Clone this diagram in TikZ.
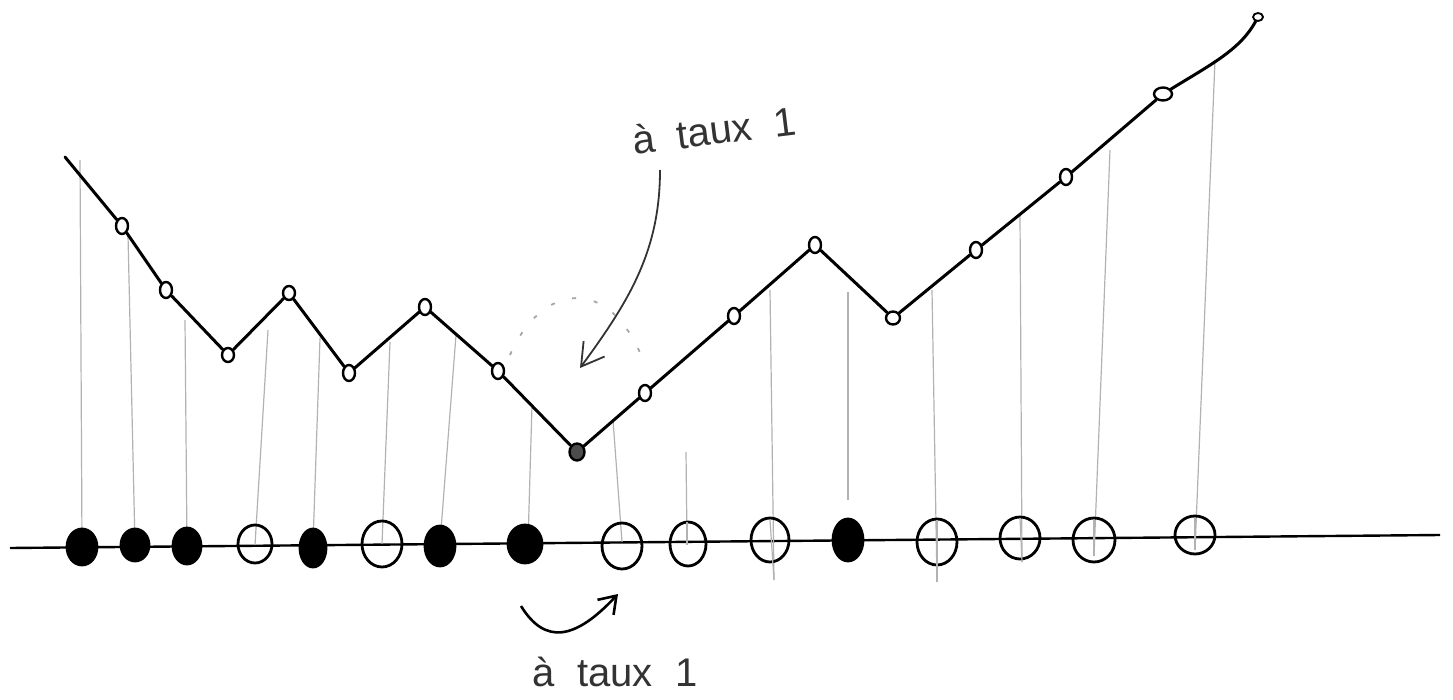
\documentclass[tikz,border=0pt]{standalone}
\usepackage{fontspec}
\setmainfont{Liberation Sans}
\usetikzlibrary{shapes.geometric,arrows.meta}
\begin{document}
\begin{tikzpicture}[x=1pt,y=-1pt,
  ink/.style={line width=3pt,black,line cap=round,line join=round},
  dot/.style={ellipse,draw,line width=2.4pt,minimum width=12pt,minimum height=16pt,inner sep=0pt,fill=white},
  ball/.style={ellipse,draw,line width=2.8pt,minimum width=34pt,minimum height=40pt,inner sep=0pt},
  fullball/.style={ball,fill=black},
  guide/.style={gray!60,line width=1.2pt},
  lbl/.style={font=\fontsize{40}{40}\selectfont,text=black!80}]
\useasboundingbox (0,0) rectangle (1453,700);
% baseline
\coordinate (bl) at (10,548);
\coordinate (br) at (1440,535);
\draw[line width=2.4pt] (bl) -- (br);
% guide tops / bottoms
\coordinate (g1) at (80,160);
\coordinate (g2) at (128,235);
\coordinate (g3) at (185,320);
\coordinate (g4) at (268,330);
\coordinate (g5) at (320,338);
\coordinate (g6) at (390,342);
\coordinate (g7) at (456,335);
\coordinate (g8) at (532,405);
\coordinate (g9) at (613,420);
\coordinate (g10) at (686,452);
\coordinate (g11) at (770,290);
\coordinate (g12) at (848,292);
\coordinate (g13) at (932,290);
\coordinate (g14) at (1020,215);
\coordinate (g15) at (1110,150);
\coordinate (g16) at (1215,60);
\coordinate (d11) at (774,580);
\coordinate (d13) at (937,582);
\coordinate (d14) at (1022,562);
\coordinate (d15) at (1094,556);
\coordinate (d16) at (1195,550);
\coordinate (d12) at (848,500);
% guides
\draw[guide] (g1) -- (82,546);
\draw[guide] (g2) -- (135,545);
\draw[guide] (g3) -- (187,545);
\draw[guide] (g4) -- (255,545);
\draw[guide] (g5) -- (313,544);
\draw[guide] (g6) -- (382,544);
\draw[guide] (g7) -- (440,543);
\draw[guide] (g8) -- (528,543);
\draw[guide] (g9) -- (622,542);
\draw[guide] (g10) -- (687,541);
\draw[guide] (g11) -- (d11);
\draw[guide] (g12) -- (d12);
\draw[guide] (g13) -- (d13);
\draw[guide] (g14) -- (d14);
\draw[guide] (g15) -- (d15);
\draw[guide] (g16) -- (d16);
% baseline balls
\node[fullball,minimum width=30pt,minimum height=36pt] (b1) at (82,547) {};
\node[fullball,minimum width=28pt,minimum height=32pt] (b2) at (135,545) {};
\node[fullball,minimum width=28pt,minimum height=36pt] (b3) at (187,546) {};
\node[ball,minimum width=34pt,minimum height=38pt] (b4) at (255,544) {};
\node[fullball,minimum width=26pt,minimum height=38pt] (b5) at (313,548) {};
\node[ball,minimum width=40pt,minimum height=46pt] (b6) at (382,544) {};
\node[fullball,minimum width=30pt,minimum height=40pt] (b7) at (440,546) {};
\node[fullball,minimum width=34pt,minimum height=38pt] (b8) at (525,544) {};
\node[ball,minimum width=40pt,minimum height=46pt] (b9) at (622,546) {};
\node[ball,minimum width=36pt,minimum height=44pt] (b10) at (688,544) {};
\node[ball,minimum width=38pt,minimum height=44pt] (b11) at (770,540) {};
\node[fullball,minimum width=30pt,minimum height=42pt] (b12) at (848,540) {};
\node[ball,minimum width=40pt,minimum height=46pt] (b13) at (937,542) {};
\node[ball,minimum width=40pt,minimum height=42pt] (b14) at (1020,538) {};
\node[ball,minimum width=42pt,minimum height=44pt] (b15) at (1094,540) {};
\node[ball,minimum width=40pt,minimum height=38pt] (b16) at (1195,535) {};
% guide lines through open balls
\draw[guide] (770,520) -- (d11);
\draw[guide] (937,520) -- (d13);
\draw[guide] (1020,518) -- (d14);
\draw[guide] (1094,520) -- (d15);
\draw[guide] (1195,518) -- (d16);
\draw[guide] (687,522) -- (687,545);
% curve points
\coordinate (s) at (65,157);
\node[dot] (p1) at (122,226) {};
\node[dot] (p2) at (166,290) {};
\node[dot,minimum height=14pt] (p3) at (228,355) {};
\node[dot,minimum height=14pt] (p4) at (289,293) {};
\node[dot] (p5) at (349,373) {};
\node[dot] (p6) at (425,307) {};
\node[dot] (p7) at (498,371) {};
\node[dot,fill=black!70,minimum width=15pt,minimum height=17pt] (p8) at (577,452) {};
\node[dot] (p9) at (645,393) {};
\node[dot] (p10) at (734,316) {};
\node[dot] (p11) at (815,245) {};
\node[dot,minimum width=14pt,minimum height=13pt] (p12) at (893,318) {};
\node[dot] (p13) at (976,250) {};
\node[dot] (p14) at (1066,177) {};
\node[dot,minimum width=18pt,minimum height=13pt] (p15) at (1163,94) {};
\node[dot,minimum width=10pt,minimum height=8pt,line width=1.8pt] (p16) at (1258,17) {};
\draw[ink] (s) -- (p1) -- (p2) -- (p3) -- (p4) -- (p5) -- (p6) -- (p7)
  -- (p8) -- (p9) -- (p10) -- (p11) -- (p12) -- (p13) -- (p14) -- (p15);
\draw[ink] (p15) .. controls (1210,65) and (1240,50) .. (p16);
% upper annotation
\node[lbl,rotate=7] (t1) at (714,130) {à~~taux~~1};
\coordinate (a1s) at (660,170);
\coordinate (a1e) at (580,368);
\draw[line width=1.8pt,black!80,-{Straight Barb[length=22pt,width=26pt]}]
  (a1s) .. controls (660,250) and (630,300) .. (a1e);
\coordinate (r1) at (510,355);
\coordinate (r2) at (645,365);
\draw[gray!70,line width=1.8pt,dash pattern=on 4pt off 18pt]
  (r1) .. controls (540,285) and (610,270) .. (r2);
% lower annotation
\coordinate (a2s) at (521,606);
\coordinate (a2e) at (618,594);
\draw[line width=2.6pt,black,-{Straight Barb[length=16pt,width=22pt]}]
  (a2s) .. controls (545,645) and (575,640) .. (a2e);
\node[lbl] (t2) at (615,672) {à~~taux~~1};
\end{tikzpicture}
\end{document}
